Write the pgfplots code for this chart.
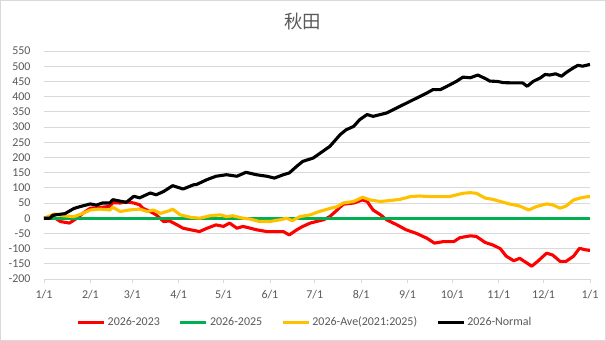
\documentclass[border=0pt]{standalone}
\usepackage{pgfplots}
\pgfplotsset{compat=1.18}
\usepackage{fontspec}
\setmainfont{Carlito}
\newfontfamily\cjk{Noto Sans CJK JP}
\definecolor{txt}{HTML}{595959}
\definecolor{grd}{HTML}{D9D9D9}
\definecolor{cred}{HTML}{FF0000}
\definecolor{cgreen}{HTML}{00B050}
\definecolor{cyellow}{HTML}{FFC000}
\begin{document}
\begin{tikzpicture}
\begin{axis}[
  at={(0,0)}, anchor=south west,
  scale only axis, width=546bp, height=228bp,
  xmin=0, xmax=365, ymin=-200, ymax=550,
  xtick={0,31,59,90,120,151,181,212,243,273,304,334,365},
  xticklabels={1/1,2/1,3/1,4/1,5/1,6/1,7/1,8/1,9/1,10/1,11/1,12/1,1/1},
  ytick={-200,-150,-100,-50,0,50,100,150,200,250,300,350,400,450,500,550},
  yticklabels={-200,-150,-100,-50,0,50,100,150,200,250,300,350,400,450,500,550},
  axis x line*=bottom, axis y line*=left,
  y axis line style={draw=none},
  x axis line style={draw=grd, line width=0.75bp, -},
  ytick style={draw=none},
  xtick style={draw=grd, line width=0.75bp},
  tick align=outside, major tick length=4bp,
  ymajorgrids, grid style={draw=grd, line width=0.75bp},
  ticklabel style={font=\fontsize{12}{14}\selectfont, text=txt},
  yticklabel style={xshift=-6bp},
  xticklabel style={yshift=-4bp},
  title={\cjk 秋田},
  title style={at={(rel axis cs:0.474,1.105)}, anchor=center, font=\fontsize{18.5}{20}\selectfont, text=txt},
  legend columns=4,
  legend style={at={(rel axis cs:0.478,-0.19)}, anchor=center, draw=none, fill=none,
    font=\fontsize{12}{14}\selectfont, text=txt,
    /tikz/every even column/.append style={column sep=17bp}},
  legend image code/.code={\draw[#1, line width=3.2bp] (0bp,0bp) -- (26bp,0bp);},
  every axis plot/.append style={line width=3.1bp, line join=round, no markers},
]
\addplot[cred] coordinates {
(0,0) (6,5) (11,-11) (17,-16) (22,0) (26,16) (31,33) (37,35) (44,39) (46,51) (51,50) (55,54) (60,50) (64,44) (66,33) (71,22) (75,11) (80,-11) (84,-9) (89,-22) (93,-33) (98,-38) (104,-44) (109,-33) (115,-22) (120,-27) (124,-16) (129,-33) (133,-27) (138,-33) (142,-38) (149,-44) (156,-44) (160,-44) (164,-55) (169,-38) (173,-27) (178,-16) (182,-11) (187,-5) (191,5) (196,27) (200,46) (207,50) (213,60) (216,55) (220,27) (225,11) (229,-5) (236,-22) (242,-38) (249,-50) (256,-66) (261,-82) (267,-77) (274,-77) (278,-64) (285,-58) (289,-60) (295,-80) (300,-88) (305,-100) (309,-125) (314,-140) (318,-132) (323,-148) (326,-158) (330,-142) (336,-115) (340,-121) (345,-142) (349,-142) (354,-125) (358,-99) (362,-104) (365,-106)
};
\addlegendentry{2026-2023}
\addplot[cgreen] coordinates {(0,0) (365,0)};
\addlegendentry{2026-2025}
\addplot[cyellow] coordinates {
(0,0) (4,8) (7,14) (13,8) (20,5) (26,16) (31,27) (37,30) (44,27) (46,36) (51,22) (57,27) (64,30) (69,22) (73,27) (78,16) (84,25) (86,30) (91,11) (98,3) (104,0) (111,8) (118,11) (122,5) (126,8) (133,0) (138,-3) (144,-11) (151,-11) (158,-5) (162,0) (166,-8) (171,5) (178,11) (184,22) (191,32) (196,38) (200,50) (207,55) (213,69) (218,60) (225,55) (231,58) (238,62) (245,71) (251,73) (258,71) (265,71) (271,71) (276,77) (280,82) (285,84) (289,82) (295,66) (300,62) (305,55) (311,47) (318,40) (324,27) (329,38) (336,47) (340,44) (345,33) (349,40) (354,60) (358,66) (362,70) (365,71)
};
\addlegendentry{2026-Ave(2021:2025)}
\addplot[black] coordinates {
(0,0) (4,0) (6,10) (14,15) (20,32) (24,38) (31,47) (35,43) (39,50) (44,50) (46,61) (51,56) (55,52) (60,72) (64,67) (71,83) (75,77) (80,88) (86,107) (93,96) (100,110) (102,111) (109,127) (115,138) (122,143) (129,138) (135,151) (142,143) (149,138) (154,132) (160,143) (164,149) (169,171) (173,187) (180,198) (191,236) (193,247) (198,275) (202,291) (207,302) (211,324) (216,341) (220,335) (229,346) (238,368) (247,390) (256,412) (260,423) (265,423) (271,438) (276,451) (280,464) (285,462) (290,471) (296,457) (298,451) (303,450) (307,446) (314,445) (320,445) (323,434) (327,450) (332,462) (335,473) (338,471) (342,475) (346,467) (349,479) (354,495) (357,503) (360,500) (365,506)
};
\addlegendentry{2026-Normal}
\end{axis}
\pgfresetboundingbox
\path (-44bp,-62bp) rectangle (562bp,279bp);
\draw[grd, line width=0.75bp] (-43.6bp,-61.6bp) rectangle (561.6bp,278.6bp);
\end{tikzpicture}
\end{document}
